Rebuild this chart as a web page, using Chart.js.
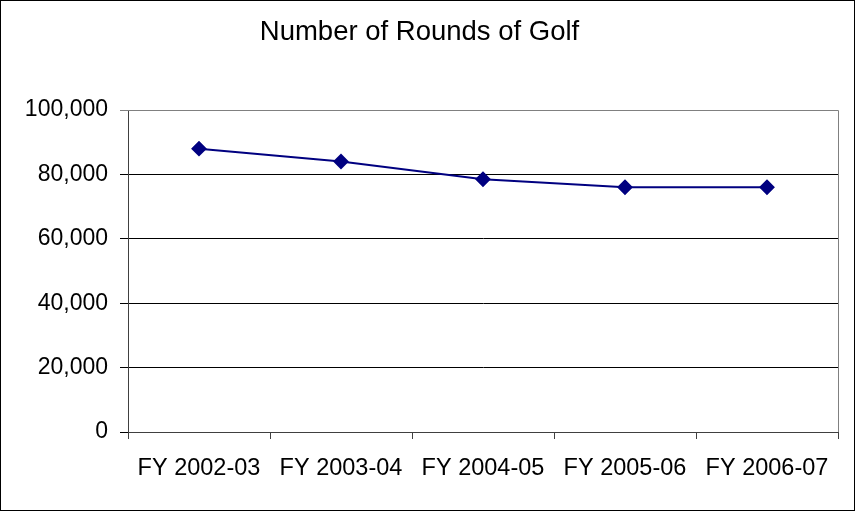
<!DOCTYPE html>
<html lang="en">
<head>
    <meta charset="UTF-8">
    <title>Number of Rounds of Golf</title>
    <style>
        html, body { margin: 0; padding: 0; background: #fff; }
        .chart-box {
            width: 855px;
            height: 511px;
            box-sizing: border-box;
            border: 1px solid #000;
            position: relative;
        }
    </style>
</head>
<body>
    <div class="chart-box">
        <canvas id="golfChart"></canvas>
    </div>

    <script src="https://cdn.jsdelivr.net/npm/chart.js"></script>
    <script>
        const seasons = ['FY 2002-03', 'FY 2003-04', 'FY 2004-05', 'FY 2005-06', 'FY 2006-07'];
        const rounds = [88000, 84000, 78500, 76000, 76000];
        const yTicks = [0, 20000, 40000, 60000, 80000, 100000];

        const fontFamily = '"Liberation Sans", Arial, sans-serif';

        // grey frame on the top and right of the plot area
        const plotFrame = {
            id: 'plotFrame',
            afterDraw(chart) {
                const { ctx, chartArea } = chart;
                ctx.save();
                ctx.strokeStyle = '#808080';
                ctx.lineWidth = 1;
                ctx.beginPath();
                ctx.moveTo(chartArea.left, chartArea.top + 0.5);
                ctx.lineTo(chartArea.right + 0.5, chartArea.top + 0.5);
                ctx.lineTo(chartArea.right + 0.5, chartArea.bottom);
                ctx.stroke();
                ctx.restore();
            }
        };

        const ctx = document.getElementById('golfChart').getContext('2d');
        new Chart(ctx, {
            type: 'line',
            data: {
                labels: seasons,
                datasets: [{
                    label: 'Rounds',
                    data: rounds,
                    borderColor: '#000080',
                    backgroundColor: '#000080',
                    borderWidth: 2,
                    pointStyle: 'rectRot',
                    pointRadius: 6.5,
                    pointHoverRadius: 6.5,
                    tension: 0,
                    fill: false
                }]
            },
            options: {
                responsive: true,
                maintainAspectRatio: false,
                animation: false,
                layout: { padding: { left: 0, right: 16, top: 0, bottom: 0 } },
                plugins: {
                    legend: { display: false },
                    tooltip: { enabled: false },
                    title: {
                        display: true,
                        text: 'Number of Rounds of Golf',
                        color: '#000',
                        font: { family: fontFamily, size: 27.5, weight: 'normal' },
                        padding: { top: 15, bottom: 61 }
                    }
                },
                scales: {
                    x: {
                        offset: true,
                        afterFit(scale) { scale.height = 78; },
                        grid: {
                            offset: true,
                            drawOnChartArea: false,
                            drawTicks: true,
                            tickLength: 7,
                            color: '#404040'
                        },
                        border: { color: '#404040', width: 1 },
                        ticks: {
                            color: '#000',
                            padding: 15,
                            maxRotation: 0,
                            font: { family: fontFamily, size: 23.5 }
                        }
                    },
                    y: {
                        min: 0,
                        max: 100000,
                        afterFit(scale) { scale.width = 127; },
                        afterBuildTicks(scale) {
                            scale.ticks = yTicks.map(v => ({ value: v }));
                        },
                        grid: {
                            drawTicks: true,
                            tickLength: 8,
                            color: ctx => ctx.tick && ctx.tick.value === 100000 ? '#808080' : '#000',
                            lineWidth: 1
                        },
                        border: { color: '#404040', width: 1 },
                        ticks: {
                            color: '#000',
                            padding: 12,
                            font: { family: fontFamily, size: 23 },
                            callback: value => value.toLocaleString('en-US')
                        }
                    }
                }
            },
            plugins: [plotFrame]
        });
    </script>
</body>
</html>
